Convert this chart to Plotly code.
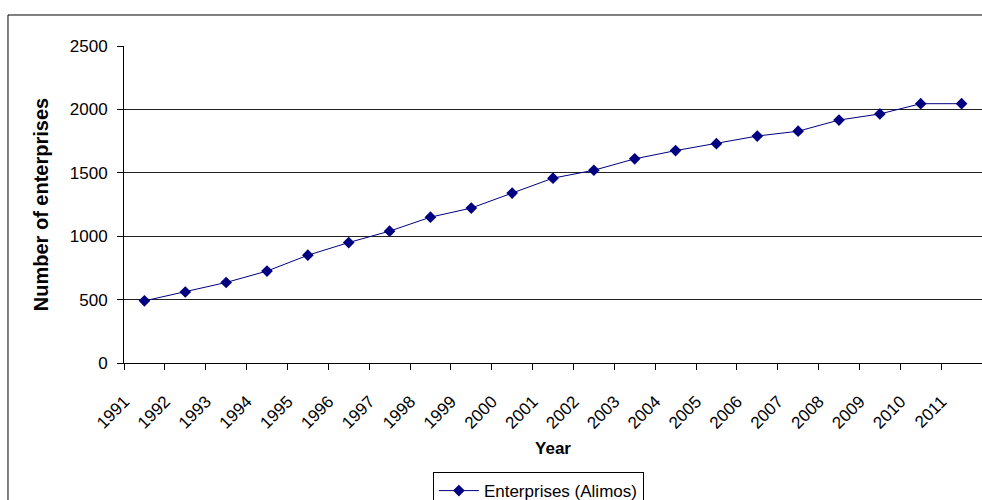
import plotly.graph_objects as go

years = [str(y) for y in range(1991, 2012)]
enterprises = [490, 560, 635, 725, 850, 950, 1040, 1150, 1222, 1340, 1458,
               1520, 1610, 1675, 1730, 1790, 1828, 1916, 1964, 2045, 2045]
y_ticks = [0, 500, 1000, 1500, 2000, 2500]
series_name = "Enterprises (Alimos)"

FONT = "Arial, Liberation Sans, sans-serif"
NAVY = "#000080"

fig = go.Figure()
fig.add_trace(go.Scatter(
    x=years, y=enterprises, name=series_name, mode="lines+markers",
    line=dict(color=NAVY, width=1),
    marker=dict(symbol="diamond", size=9, color=NAVY),
    showlegend=True,
))

fig.update_layout(
    width=982, height=500,
    margin=dict(l=124, r=0, t=46, b=137, autoexpand=False),
    paper_bgcolor="white", plot_bgcolor="white",
    font=dict(family=FONT, size=17, color="black"),
    showlegend=True,
    legend=dict(
        x=0.36, y=-0.344, xanchor="left", yanchor="top",
        orientation="h", bordercolor="black", borderwidth=1,
        bgcolor="white", font=dict(size=17), itemwidth=40,
    ),
    xaxis=dict(
        type="category", range=[-0.5, len(years) - 0.5], automargin=False,
        tickson="boundaries", ticks="outside", ticklen=6,
        tickcolor="black", showline=True, linecolor="black", linewidth=1,
        showgrid=False, tickangle=-45, tickfont=dict(size=17),
        ticklabelshift=-20, ticklabelstandoff=21,
        title=dict(text="<b>Year</b>", font=dict(size=17), standoff=10),
    ),
    yaxis=dict(
        range=[0, 2500], tickvals=y_ticks, ticks="outside", ticklen=6,
        automargin=False,
        tickcolor="black", showline=True, linecolor="black", linewidth=1,
        showgrid=True, gridcolor="#222222", gridwidth=1, zeroline=False,
        tickfont=dict(size=17), ticklabelstandoff=6,
        title=dict(text="<b>Number of enterprises</b>", font=dict(size=20), standoff=15),
    ),
    shapes=[dict(
        type="rect", xref="paper", yref="paper",
        x0=-0.1352, x1=1.05, y0=-0.7, y1=1.0978,
        line=dict(color="black", width=1), fillcolor="rgba(0,0,0,0)",
    )],
)

fig.write_html("out.html")
